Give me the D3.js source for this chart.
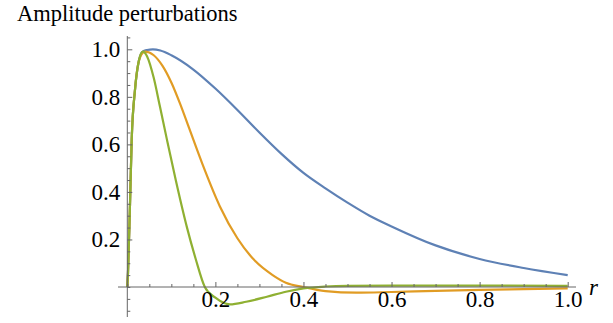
<!DOCTYPE html>
<html>
<head>
<meta charset="utf-8">
<script src="https://cdn.jsdelivr.net/npm/d3@7"></script>
<style>
  body { margin: 0; background: #fff; }
  svg { display: block; font-family: "Liberation Serif", "DejaVu Serif", serif; }
</style>
</head>
<body>
<svg id="chart" width="613" height="323"></svg>
<script>
// valeurs (r, amplitude)
const blueR   = [0, 0.0016, 0.006, 0.010, 0.0175, 0.025, 0.035, 0.045, 0.058, 0.075, 0.1, 0.15, 0.2, 0.25, 0.3, 0.35, 0.4, 0.45, 0.5, 0.55, 0.6, 0.7, 0.8, 0.9, 1.0];
const blueA   = [0, 0.06, 0.34, 0.62, 0.83, 0.94, 0.99, 0.997, 1.0, 0.995, 0.975, 0.915, 0.835, 0.745, 0.65, 0.56, 0.48, 0.415, 0.355, 0.30, 0.255, 0.175, 0.118, 0.08, 0.05];

const orangeR = [0, 0.0016, 0.006, 0.010, 0.0175, 0.025, 0.035, 0.04, 0.06, 0.08, 0.1, 0.12, 0.14, 0.17, 0.21, 0.25, 0.29, 0.33, 0.36, 0.4, 0.45, 0.52, 0.6, 0.7, 0.8, 0.9, 1.0];
const orangeA = [0, 0.06, 0.34, 0.62, 0.83, 0.94, 0.985, 0.99, 0.975, 0.93, 0.86, 0.77, 0.67, 0.52, 0.34, 0.205, 0.11, 0.05, 0.018, 0, -0.017, -0.024, -0.021, -0.016, -0.012, -0.009, -0.006];

const greenR  = [0, 0.0016, 0.006, 0.010, 0.0175, 0.025, 0.035, 0.045, 0.06, 0.074, 0.09, 0.11, 0.135, 0.155, 0.176, 0.2, 0.233, 0.27, 0.317, 0.36, 0.4, 0.45, 0.5, 0.6, 0.8, 1.0];
const greenA  = [0, 0.06, 0.34, 0.62, 0.83, 0.94, 0.99, 0.97, 0.88, 0.76, 0.62, 0.45, 0.254, 0.12, 0, -0.045, -0.073, -0.062, -0.041, -0.02, -0.006, 0.002, 0.005, 0.006, 0.006, 0.005];

const xMajor = [0.2, 0.4, 0.6, 0.8, 1.0];
const yMajor = [0.2, 0.4, 0.6, 0.8, 1.0];

const series = [
  { r: blueR, a: blueA, color: "#5e81b5" },
  { r: orangeR, a: orangeA, color: "#e19c24" },
  { r: greenR, a: greenA, color: "#8fb032" }
];

const svg = d3.select("#chart");
const x = d3.scaleLinear().domain([0, 1]).range([127.3, 567.7]);
const y = d3.scaleLinear().domain([0, 1]).range([287, 49.3]);

const axisColor = "#666";

// courbes
const line = d3.line()
  .x(d => x(d[0]))
  .y(d => y(d[1]))
  .curve(d3.curveMonotoneX);

series.forEach(s => {
  svg.append("path")
    .datum(s.r.map((r, i) => [r, s.a[i]]))
    .attr("fill", "none")
    .attr("stroke", s.color)
    .attr("stroke-width", 2.2)
    .attr("d", line);
});

// axes
const minorX = d3.range(0, 1.0001, 0.05).filter(v => !xMajor.some(m => Math.abs(m - v) < 1e-6));
const minorY = d3.range(-0.1, 1.0501, 0.05).filter(v => !yMajor.some(m => Math.abs(m - v) < 1e-6));

const gx = svg.append("g").attr("transform", `translate(0,${y(0)})`);
gx.call(d3.axisBottom(x).tickValues(minorX).tickSize(-3).tickFormat(""));
gx.call(g => g.select(".domain").remove());
const gx2 = svg.append("g").attr("transform", `translate(0,${y(0)})`);
gx2.call(d3.axisBottom(x).tickValues(xMajor).tickSize(-5).tickPadding(4).tickFormat(d3.format(".1f")));
gx2.select(".domain").remove();

const gy = svg.append("g").attr("transform", `translate(${x(0)},0)`);
gy.call(d3.axisLeft(y).tickValues(minorY).tickSize(-3).tickFormat(""));
gy.select(".domain").remove();
const gy2 = svg.append("g").attr("transform", `translate(${x(0)},0)`);
gy2.call(d3.axisLeft(y).tickValues(yMajor).tickSize(-5).tickPadding(7).tickFormat(d3.format(".1f")));
gy2.select(".domain").remove();

svg.selectAll(".tick line").attr("stroke", axisColor);
svg.selectAll(".tick text")
  .attr("fill", "#000")
  .style("font-size", "23px")
  .style("font-family", "'Liberation Serif', serif");

// lignes des axes
svg.append("line")
  .attr("x1", 118).attr("x2", 576)
  .attr("y1", y(0)).attr("y2", y(0))
  .attr("stroke", axisColor).attr("stroke-width", 1);
svg.append("line")
  .attr("x1", x(0)).attr("x2", x(0))
  .attr("y1", 36).attr("y2", 317)
  .attr("stroke", axisColor).attr("stroke-width", 1);

// textes
svg.append("text")
  .attr("x", 17).attr("y", 21)
  .style("font-size", "22.5px")
  .text("Amplitude perturbations");

svg.append("text")
  .attr("x", 589).attr("y", 295)
  .style("font-size", "23px")
  .style("font-style", "italic")
  .text("r");
</script>
</body>
</html>
